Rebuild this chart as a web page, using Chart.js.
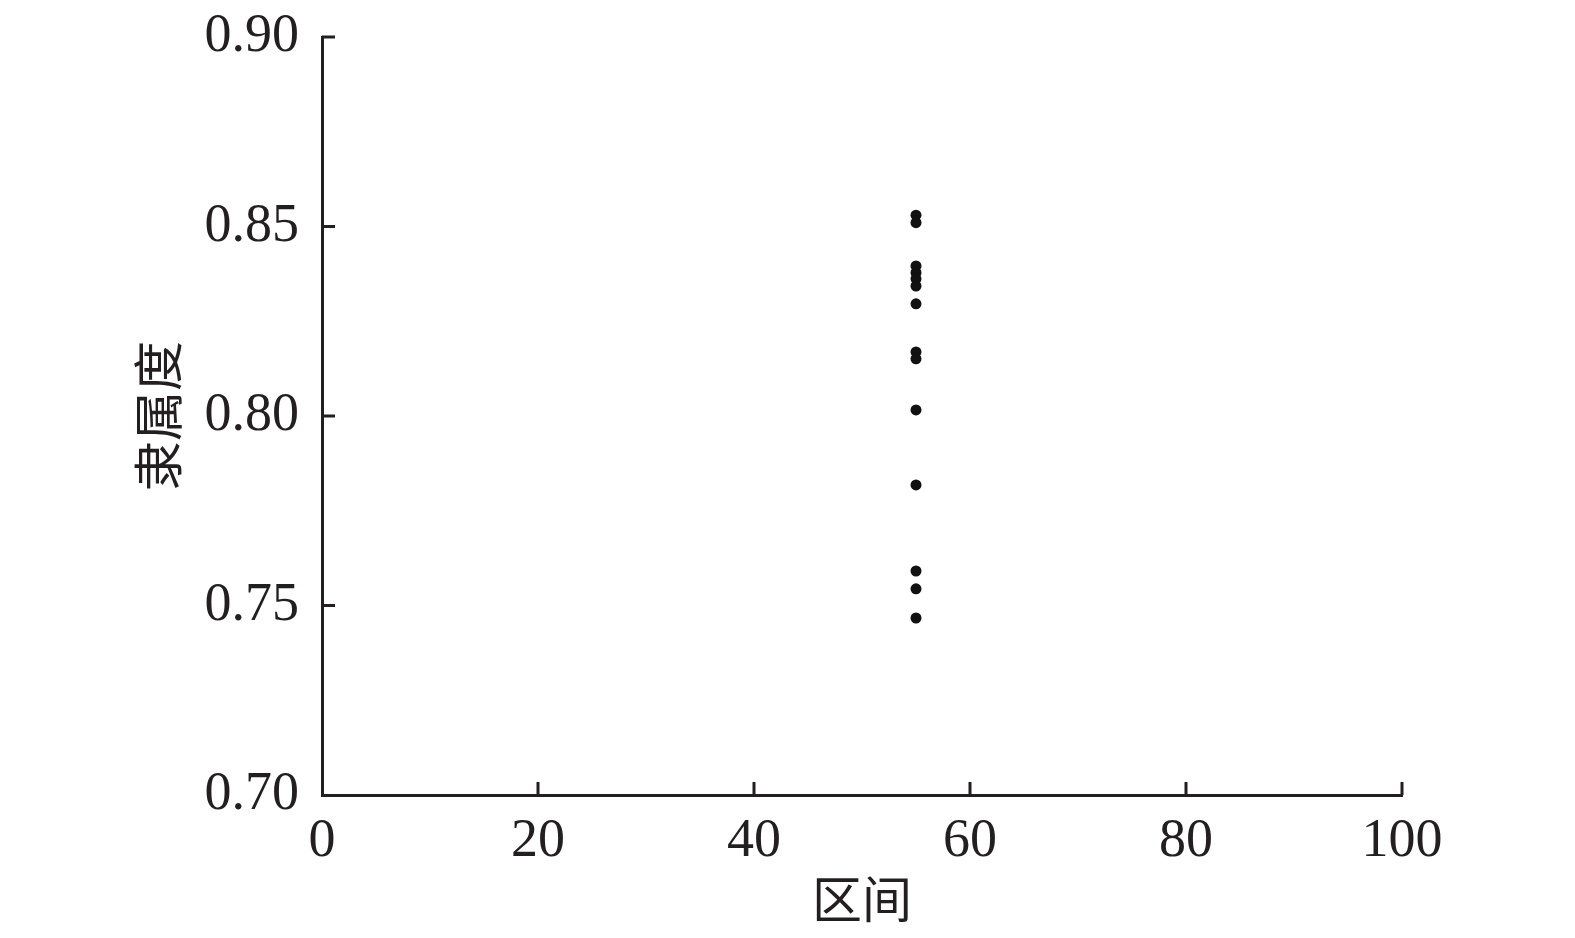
<!DOCTYPE html>
<html>
<head>
<meta charset="utf-8">
<script src="https://cdn.jsdelivr.net/npm/chart.js@4/dist/chart.umd.min.js"></script>
<style>
html,body{margin:0;padding:0;background:#fff;}
#wrap{width:1575px;height:938px;position:relative;}
</style>
</head>
<body>
<div id="wrap"><canvas id="c" width="1575" height="938"></canvas></div>
<script>
// Data
const xValues = [55,55,55,55,55,55,55,55,55,55,55,55,55,55];
const membership = [0.853,0.851,0.8396,0.8378,0.8362,0.8343,0.8296,0.8169,0.8151,0.8016,0.7818,0.7591,0.7544,0.7467];
const xTicks = [0,20,40,60,80,100];
const yTicks = [0.70,0.75,0.80,0.85,0.90];
const xTitle = '区间';
const yTitle = '隶属度';

const axisColor = '#231f20';
const tickFont = {family:'"Liberation Serif", "DejaVu Serif", serif', size:54};
const titleFont = {family:'"Noto Sans CJK SC", sans-serif', size:50};

const inwardTicks = {
  id:'inwardTicks',
  afterDatasetsDraw(chart){
    const ctx = chart.ctx;
    const xs = chart.scales.x, ys = chart.scales.y;
    const len = 13;
    ctx.save();
    ctx.strokeStyle = axisColor;
    ctx.lineWidth = 3;
    ctx.beginPath();
    xTicks.forEach(v=>{
      if (v===xs.min) return;
      const px = xs.getPixelForValue(v);
      ctx.moveTo(px, ys.bottom);
      ctx.lineTo(px, ys.bottom - len);
    });
    yTicks.forEach(v=>{
      if (v===ys.min) return;
      const py = ys.getPixelForValue(v);
      ctx.moveTo(xs.left, py);
      ctx.lineTo(xs.left + len, py);
    });
    ctx.stroke();
    ctx.restore();
  }
};

new Chart(document.getElementById('c'), {
  type:'scatter',
  data:{
    datasets:[{
      data: xValues.map((x,i)=>({x:x, y:membership[i]})),
      backgroundColor:'#111111',
      borderColor:'#111111',
      pointRadius:5.5,
      pointHoverRadius:5.5,
      borderWidth:0
    }]
  },
  options:{
    responsive:false,
    animation:false,
    events:[],
    layout:{padding:{left:124, right:173, top:37, bottom:5}},
    plugins:{legend:{display:false}, tooltip:{enabled:false}},
    scales:{
      x:{
        type:'linear', min:0, max:100,
        afterBuildTicks(s){ s.ticks = xTicks.map(v=>({value:v})); },
        afterFit(s){ s.height = 138; s.paddingLeft = 0; s.paddingRight = 0; },
        grid:{display:true, drawOnChartArea:false, drawTicks:false},
        border:{display:true, color:axisColor, width:3},
        ticks:{color:'#231f20', font:tickFont, padding:14, maxRotation:0, callback:v=>String(v)},
        title:{display:true, text:xTitle, color:'#231f20', font:titleFont, padding:{top:0,bottom:4}}
      },
      y:{
        type:'linear', min:0.70, max:0.90,
        afterBuildTicks(s){ s.ticks = yTicks.map(v=>({value:v})); },
        afterFit(s){ s.width = 322-124; s.paddingTop = 0; s.paddingBottom = 0; },
        grid:{display:true, drawOnChartArea:false, drawTicks:false},
        border:{display:true, color:axisColor, width:3},
        ticks:{color:'#231f20', font:tickFont, padding:23, callback:v=>Number(v).toFixed(2)},
        title:{display:true, text:yTitle, color:'#231f20', font:titleFont, padding:{top:4,bottom:0}}
      }
    }
  },
  plugins:[inwardTicks]
});
</script>
</body>
</html>
